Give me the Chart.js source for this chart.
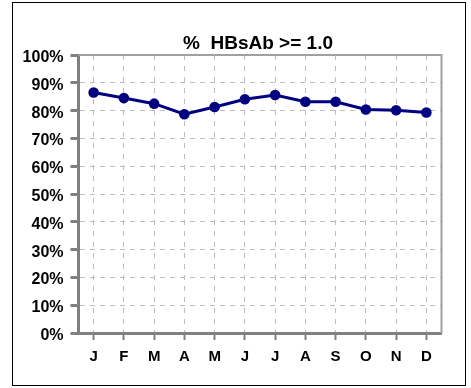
<!DOCTYPE html>
<html>
<head>
<meta charset="utf-8">
<script src="https://cdn.jsdelivr.net/npm/chart.js@4/dist/chart.umd.min.js"></script>
<style>
  html, body { margin: 0; padding: 0; background: #ffffff; }
  #wrap { width: 471px; height: 388px; }
</style>
</head>
<body>
<div id="wrap"><canvas id="chart" width="471" height="388"></canvas></div>
<script>
// Monthly share of patients with HBsAb >= 1.0
const chartTitle = '%  HBsAb >= 1.0';
const months = ['J', 'F', 'M', 'A', 'M', 'J', 'J', 'A', 'S', 'O', 'N', 'D'];
const pctHBsAb = [86.5, 84.5, 82.5, 78.7, 81.3, 84.1, 85.6, 83.2, 83.2, 80.4, 80.1, 79.3];
const yMin = 0;
const yMax = 100;
const yStep = 10;

const FONT = '"Liberation Sans", Arial, Helvetica, sans-serif';

// Outer frame, title and the top/right edges of the plot box
const framePlugin = {
  id: 'frame',
  beforeDraw(chart) {
    const ctx = chart.ctx;
    ctx.save();
    ctx.fillStyle = '#ffffff';
    ctx.fillRect(0, 0, chart.width, chart.height);
    ctx.restore();
  },
  beforeDatasetsDraw(chart) {
    const ctx = chart.ctx;
    const a = chart.chartArea;
    ctx.save();
    ctx.strokeStyle = '#a0a0a0';
    ctx.lineWidth = 2;
    ctx.beginPath();
    ctx.moveTo(a.left, a.top);
    ctx.lineTo(a.right, a.top);
    ctx.lineTo(a.right, a.bottom);
    ctx.stroke();
    ctx.restore();
  },
  afterDraw(chart) {
    const ctx = chart.ctx;
    ctx.save();
    ctx.strokeStyle = '#000000';
    ctx.lineWidth = 1;
    ctx.strokeRect(12.5, 2.5, 453, 383);
    ctx.fillStyle = '#000000';
    ctx.font = 'bold 19px ' + FONT;
    ctx.textAlign = 'center';
    ctx.textBaseline = 'alphabetic';
    ctx.fillText(chartTitle, 258, 48.5);
    ctx.restore();
  }
};

new Chart(document.getElementById('chart'), {
  type: 'line',
  data: {
    labels: months,
    datasets: [{
      data: pctHBsAb,
      borderColor: '#000080',
      backgroundColor: '#000080',
      borderWidth: 3,
      tension: 0,
      pointRadius: 5.3,
      pointBorderWidth: 0,
      pointBackgroundColor: '#000080',
      fill: false
    }]
  },
  options: {
    responsive: false,
    animation: false,
    devicePixelRatio: 1,
    layout: { padding: { top: 55, right: 29.5, bottom: 0, left: 0 } },
    plugins: {
      legend: { display: false },
      tooltip: { enabled: false },
      title: { display: false }
    },
    scales: {
      x: {
        type: 'category',
        offset: true,
        afterFit(scale) { scale.height = 55; },
        grid: {
          color: '#bdbdbd',
          lineWidth: 1,
          offset: false,
          drawTicks: true,
          tickLength: 7,
          tickColor: '#808080',
          tickWidth: 2
        },
        border: { display: true, color: '#808080', width: 3, dash: [5, 6] },
        ticks: {
          color: '#000000',
          font: { family: FONT, size: 15, weight: 'bold' },
          padding: 8,
          maxRotation: 0,
          autoSkip: false
        }
      },
      y: {
        min: yMin,
        max: yMax,
        afterFit(scale) { scale.width = 78.5; },
        grid: {
          color: '#bdbdbd',
          lineWidth: 1,
          drawTicks: true,
          tickLength: 8,
          tickColor: '#808080',
          tickWidth: 3
        },
        border: { display: true, color: '#808080', width: 3, dash: [5, 5] },
        ticks: {
          stepSize: yStep,
          color: '#000000',
          font: { family: FONT, size: 16, weight: 'bold' },
          padding: 7,
          labelOffset: 2.5,
          callback: (v) => v + '%'
        }
      }
    }
  },
  plugins: [framePlugin]
});
</script>
</body>
</html>
